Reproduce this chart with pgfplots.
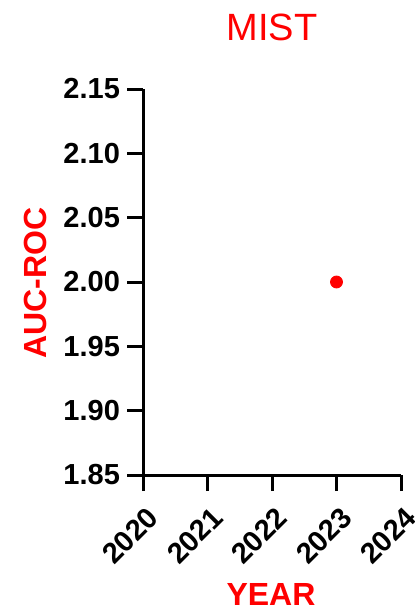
\documentclass[border=0pt]{standalone}
\usepackage{fontspec}
\setmainfont{Liberation Sans}
\usepackage{pgfplots}
\pgfplotsset{compat=1.18}
\definecolor{mistred}{RGB}{255,0,0}
\begin{document}
\begin{tikzpicture}
\useasboundingbox (-71.5pt,-67.5pt) rectangle (135.5pt,237.5pt);
\begin{axis}[
  at={(0,0)}, anchor=south west,
  scale only axis,
  width=129pt, height=193pt,
  xmin=2020, xmax=2024,
  ymin=1.85, ymax=2.15,
  xtick={2020,2021,2022,2023,2024},
  ytick={1.85,1.90,1.95,2.00,2.05,2.10,2.15},
  axis lines*=left,
  axis line style={line width=1.5pt},
  tick style={line width=1.5pt, black},
  major tick length=8pt,
  tick align=outside,
  /pgf/number format/assume math mode=true,
  yticklabel style={font=\fontsize{14.5}{16}\selectfont\bfseries,
    /pgf/number format/fixed, /pgf/number format/precision=2,
    /pgf/number format/fixed zerofill},
  xticklabel style={font=\fontsize{14.5}{16}\selectfont\bfseries,
    rotate=45, anchor=north east, inner sep=1pt, xshift=-3pt, yshift=-5pt,
    /pgf/number format/set thousands separator={}},
  clip=false,
]
\addplot[only marks, mark=*, mark size=3pt, color=mistred] coordinates {
  (2023,2.00)
};
\end{axis}
\node[text=mistred, font=\fontsize{19}{22}\selectfont] at (64.5pt,224pt) {MIST};
\node[text=mistred, font=\fontsize{16}{18}\selectfont\bfseries] at (64pt,-59.5pt) {YEAR};
\node[text=mistred, font=\fontsize{16}{18}\selectfont\bfseries, rotate=90] at (-54pt,96pt) {AUC-ROC};
\end{tikzpicture}
\end{document}
